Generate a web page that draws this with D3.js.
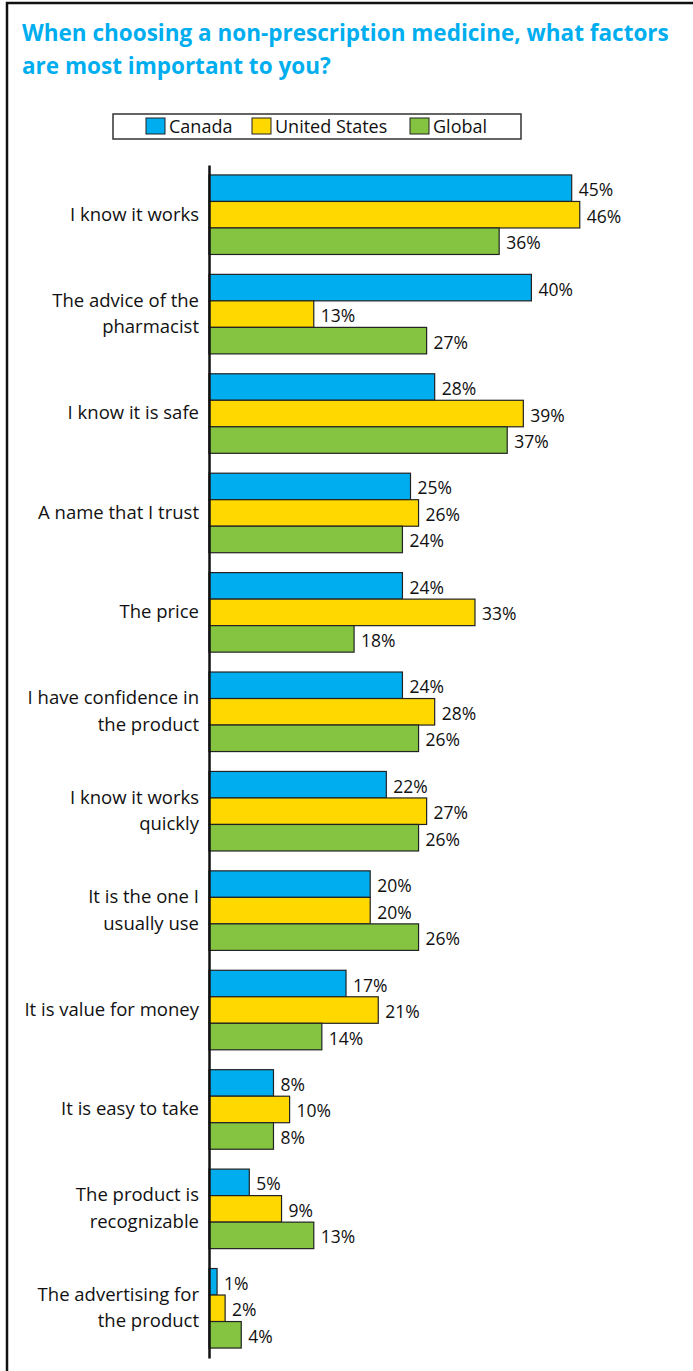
<!DOCTYPE html>
<html>
<head>
<meta charset="utf-8">
<script src="https://cdn.jsdelivr.net/npm/d3@7"></script>
<style>
  body { margin: 0; background: #fff; }
  text { font-family: "Open Sans", sans-serif; }
</style>
</head>
<body>
<div id="chart"></div>
<script>
// chart data
const categories = [
  "I know it works",
  "The advice of the|pharmacist",
  "I know it is safe",
  "A name that I trust",
  "The price",
  "I have confidence in|the product",
  "I know it works|quickly",
  "It is the one I|usually use",
  "It is value for money",
  "It is easy to take",
  "The product is|recognizable",
  "The advertising for|the product"
];
const seriesNames = ["Canada", "United States", "Global"];
const canada = [45, 40, 28, 25, 24, 24, 22, 20, 17, 8, 5, 1];
const unitedStates = [46, 13, 39, 26, 33, 28, 27, 20, 21, 10, 9, 2];
const global = [36, 27, 37, 24, 18, 26, 26, 26, 14, 8, 13, 4];
const colors = ["#00aeef", "#ffd800", "#84c441"];

const width = 693;
const height = 1371;

const svg = d3.select("#chart")
  .append("svg")
  .attr("width", width)
  .attr("height", height);

// frame (top and left edges)
svg.append("path")
  .attr("d", `M7,${height} V3 H${width}`)
  .attr("fill", "none")
  .attr("stroke", "#111")
  .attr("stroke-width", 2.5);

// title
const title = svg.append("text")
  .attr("x", 22)
  .attr("y", 41)
  .attr("fill", "#00aeef")
  .style("font-weight", "bold")
  .style("font-size", "22.5px");
title.append("tspan").attr("x", 22).text("When choosing a non-prescription medicine, what factors");
title.append("tspan").attr("x", 22).attr("dy", 33).text("are most important to you?");

// legend
const legend = svg.append("g");
legend.append("rect")
  .attr("x", 113).attr("y", 114)
  .attr("width", 408).attr("height", 25)
  .attr("fill", "#fff")
  .attr("stroke", "#333")
  .attr("stroke-width", 1.5);
const legendX = [146, 252, 410];
seriesNames.forEach((name, i) => {
  legend.append("rect")
    .attr("x", legendX[i]).attr("y", 118)
    .attr("width", 19).attr("height", 16)
    .attr("fill", colors[i])
    .attr("stroke", "#222")
    .attr("stroke-width", 1);
  legend.append("text")
    .attr("x", legendX[i] + 23)
    .attr("y", 133)
    .style("font-size", "18px")
    .attr("fill", "#111")
    .text(name);
});

// scales
const x = d3.scaleLinear()
  .domain([0, 1])
  .range([209, 209 + 8.06]);

const y0 = d3.scaleBand()
  .domain(categories)
  .range([165, 1358])
  .paddingInner(0.2)
  .paddingOuter(0.1);

const y1 = d3.scaleBand()
  .domain(seriesNames)
  .range([0, y0.bandwidth()]);

const table = categories.map((c, i) => ({
  cat: c,
  values: [canada[i], unitedStates[i], global[i]]
}));

// bars
const groups = svg.selectAll(".group")
  .data(table)
  .enter()
  .append("g")
  .attr("class", "group")
  .attr("transform", d => `translate(0,${y0(d.cat)})`);

groups.selectAll("rect")
  .data(d => d.values.map((v, i) => ({ key: seriesNames[i], value: v, i: i })))
  .enter()
  .append("rect")
  .attr("x", x(0))
  .attr("y", d => y1(d.key))
  .attr("width", d => x(d.value) - x(0))
  .attr("height", y1.bandwidth())
  .attr("fill", d => colors[d.i])
  .attr("stroke", "#222")
  .attr("stroke-width", 1.2);

groups.selectAll(".val")
  .data(d => d.values.map((v, i) => ({ key: seriesNames[i], value: v, i: i })))
  .enter()
  .append("text")
  .attr("class", "val")
  .attr("x", d => x(d.value) + 7)
  .attr("y", d => y1(d.key) + y1.bandwidth() / 2 + 8)
  .style("font-size", "17.5px")
  .attr("fill", "#111")
  .text(d => d.value + "%");

// y axis
const axis = svg.append("g")
  .attr("class", "y-axis")
  .attr("transform", `translate(${x(0)},0)`)
  .call(d3.axisLeft(y0).tickSize(0).tickSizeOuter(0).tickPadding(10));

axis.select(".domain")
  .attr("stroke", "#111")
  .attr("stroke-width", 2.5);

axis.selectAll(".tick text")
  .style("font-size", "18.5px")
  .style("font-family", "'Open Sans', sans-serif")
  .attr("fill", "#111")
  .each(function(d) {
    const lines = d.split("|");
    const t = d3.select(this);
    t.text(null).attr("dy", null);
    lines.forEach((line, k) => {
      t.append("tspan")
        .attr("x", -10)
        .attr("dy", k === 0 ? (lines.length === 1 ? "0.32em" : "-0.4em") : "1.42em")
        .text(line);
    });
  });
</script>
</body>
</html>
